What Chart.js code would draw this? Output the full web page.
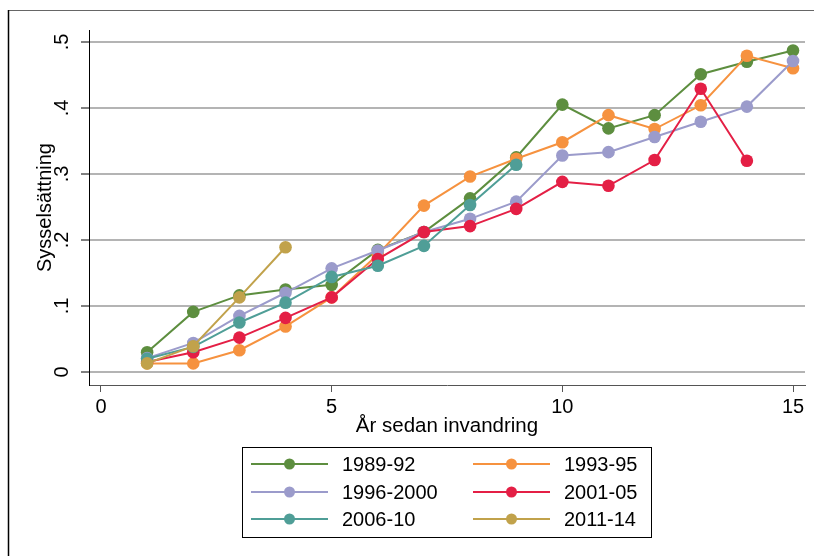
<!DOCTYPE html>
<html>
<head>
<meta charset="utf-8">
<script src="https://cdn.jsdelivr.net/npm/chart.js@4"></script>
<style>
  body { margin: 0; background: #fff; }
</style>
</head>
<body>
<canvas id="chart" width="814" height="556"></canvas>
<script>
var years = [1, 2, 3, 4, 5, 6, 7, 8, 9, 10, 11, 12, 13, 14, 15];
var labels = ["1989-92", "1993-95", "1996-2000", "2001-05", "2006-10", "2011-14"];
var colors = ["#5d8e3f", "#f6923f", "#9b9bcb", "#e41f45", "#4f9e97", "#c1a24b"];

var s1989 = [0.030, 0.091, 0.116, 0.125, 0.132, 0.185, 0.212, 0.263, 0.325, 0.405, 0.369, 0.389, 0.451, 0.470, 0.487];
var s1993 = [0.013, 0.013, 0.033, 0.069, 0.113, 0.178, 0.252, 0.296, 0.323, 0.348, 0.389, 0.368, 0.404, 0.479, 0.460];
var s1996 = [0.021, 0.044, 0.085, 0.120, 0.157, 0.184, 0.212, 0.232, 0.258, 0.328, 0.333, 0.356, 0.379, 0.402, 0.471];
var s2001 = [0.015, 0.030, 0.052, 0.082, 0.113, 0.171, 0.212, 0.221, 0.247, 0.288, 0.282, 0.321, 0.429, 0.320];
var s2006 = [0.020, 0.038, 0.075, 0.105, 0.144, 0.161, 0.191, 0.253, 0.314];
var s2011 = [0.013, 0.039, 0.113, 0.189];

var xTicks = [0, 5, 10, 15];
var yTicks = [0, 0.1, 0.2, 0.3, 0.4, 0.5];

var series = [s1989, s1993, s1996, s2001, s2006, s2011];

Chart.defaults.font.family = '"Liberation Sans", Arial, sans-serif';
Chart.defaults.color = '#000';

let datasets = series.map((s, i) => ({
    label: labels[i],
    data: s.map((v, j) => ({ x: years[j], y: v })),
    borderColor: colors[i],
    backgroundColor: colors[i],
    borderWidth: 2,
    pointRadius: 6.3,
    pointBorderWidth: 0,
    pointBackgroundColor: colors[i],
    order: series.length - i   // later series drawn on top, like Stata
}));

// outer frame of the graph region (only top and left edges show)
var framePlugin = {
    id: 'frame',
    beforeDraw: function(chart) {
        var ctx = chart.ctx;
        ctx.save();
        ctx.fillStyle = '#fff';
        ctx.fillRect(0, 0, chart.width, chart.height);
        ctx.lineWidth = 1;
        ctx.strokeStyle = '#666';
        ctx.beginPath();
        ctx.moveTo(8, 10.5);
        ctx.lineTo(chart.width, 10.5);
        ctx.stroke();
        ctx.strokeStyle = '#000';
        ctx.lineWidth = 1.5;
        ctx.beginPath();
        ctx.moveTo(8.5, 10);
        ctx.lineTo(8.5, chart.height);
        ctx.stroke();
        ctx.restore();
    }
};

// two-column legend box under the plot
var legendPlugin = {
    id: 'boxLegend',
    afterDraw: function(chart) {
        var ctx = chart.ctx;
        var ds = chart.data.datasets;
        ctx.save();
        ctx.strokeStyle = '#000';
        ctx.lineWidth = 1;
        ctx.strokeRect(242.5, 447.5, 409, 90);
        ctx.font = '20px "Liberation Sans", Arial, sans-serif';
        ctx.textBaseline = 'middle';
        ctx.textAlign = 'left';
        var colX = [251, 473];
        var rowY = [464, 492, 519];
        for (var i = 0; i < ds.length; i++) {
            var x0 = colX[i % 2];
            var y0 = rowY[Math.floor(i / 2)];
            ctx.strokeStyle = ds[i].borderColor;
            ctx.lineWidth = 2;
            ctx.beginPath();
            ctx.moveTo(x0, y0);
            ctx.lineTo(x0 + 77, y0);
            ctx.stroke();
            ctx.fillStyle = ds[i].borderColor;
            ctx.beginPath();
            ctx.arc(x0 + 38.5, y0, 5.5, 0, Math.PI * 2);
            ctx.fill();
            ctx.fillStyle = '#000';
            ctx.fillText(ds[i].label, x0 + 91, y0 + 1);
        }
        ctx.restore();
    }
};

var ctx = document.getElementById('chart').getContext('2d');
var myChart = new Chart(ctx, {
    type: 'line',
    data: { datasets: datasets },
    options: {
        responsive: false,
        animation: false,
        layout: { padding: { left: 8, top: 30, right: 9, bottom: 116 } },
        plugins: {
            legend: { display: false },
            tooltip: { enabled: false }
        },
        scales: {
            x: {
                type: 'linear',
                min: -0.26,
                max: 15.26,
                afterBuildTicks: function(scale) {
                    scale.ticks = xTicks.map(v => ({ value: v }));
                },
                afterFit: function(scale) { scale.height = 55; },
                grid: {
                    drawOnChartArea: false,
                    tickLength: 7,
                    tickColor: '#555',
                    tickWidth: 1
                },
                border: { color: '#555', width: 1 },
                ticks: {
                    font: { size: 20 },
                    padding: 3,
                    maxRotation: 0
                },
                title: {
                    display: true,
                    text: 'År sedan invandring',
                    font: { size: 20.5 },
                    padding: { top: 0, bottom: 1 }
                }
            },
            y: {
                type: 'linear',
                min: -0.0197,
                max: 0.518,
                afterBuildTicks: function(scale) {
                    scale.ticks = yTicks.map(v => ({ value: v }));
                },
                afterFit: function(scale) { scale.width = 81; },
                grid: {
                    color: '#b4b4b4',
                    lineWidth: 2,
                    tickLength: 8,
                    tickColor: '#000',
                    tickWidth: 1
                },
                border: { color: '#000', width: 1 },
                ticks: {
                    font: { size: 20 },
                    minRotation: 90,
                    maxRotation: 90,
                    crossAlign: 'center',
                    padding: 10,
                    callback: function(v) {
                        return v === 0 ? '0' : v.toFixed(1).replace(/^0/, '');
                    }
                },
                title: {
                    display: true,
                    text: 'Sysselsättning',
                    font: { size: 20 },
                    padding: { top: 25, bottom: 0 }
                }
            }
        }
    },
    plugins: [framePlugin, legendPlugin]
});
</script>
</body>
</html>
